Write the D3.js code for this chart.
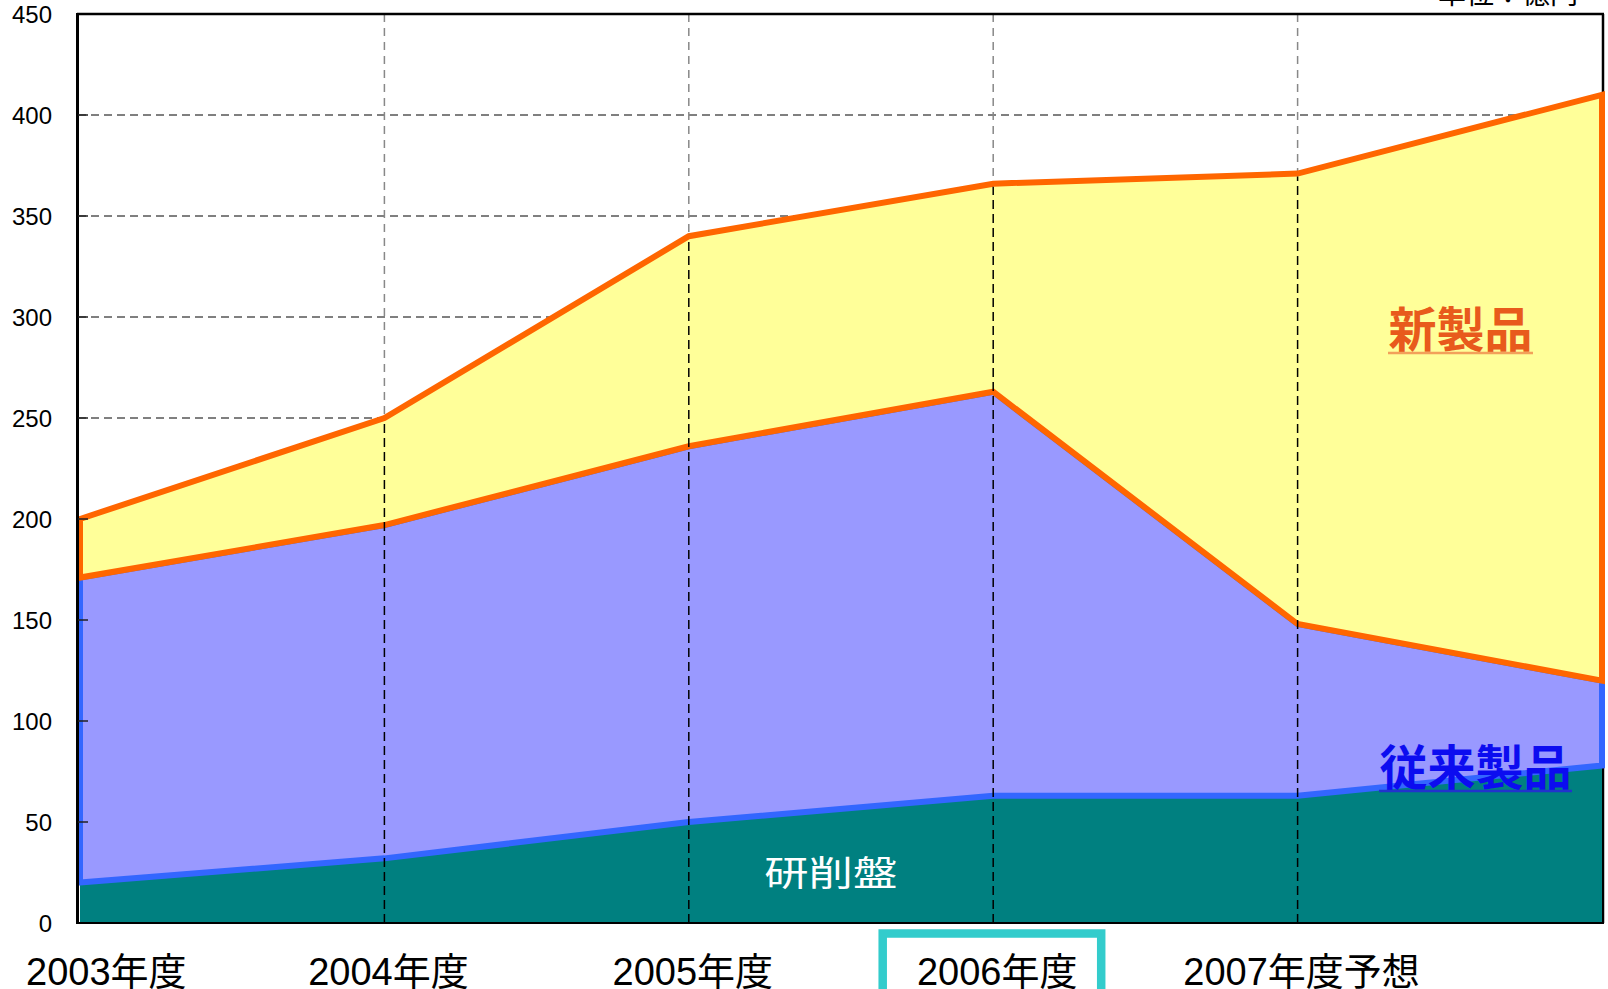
<!DOCTYPE html>
<html>
<head>
<meta charset="utf-8">
<script src="https://cdn.jsdelivr.net/npm/d3@7"></script>
<style>
  html, body { margin: 0; padding: 0; background: #ffffff; }
  svg { display: block; }
</style>
</head>
<body>
<svg id="chart" width="1608" height="989"></svg>
<script>
// ---- data ----
const categories = ["2003", "2004", "2005", "2006", "2007", "2008"];
const tickLabels = ["2003年度", "2004年度", "2005年度", "2006年度", "2007年度予想"];
const grinding = [20, 32, 50, 63, 63, 78];          // 研削盤
const conventional = [151, 165, 186, 200, 85, 42];   // 従来製品
const newProducts = [29, 53, 104, 103, 223, 290];    // 新製品
const yTicks = [0, 50, 100, 150, 200, 250, 300, 350, 400, 450];
const seriesKeys = ["grinding", "conventional", "newProducts"];
const seriesNames = ["研削盤", "従来製品", "新製品"];
const unitLabel = "単位：億円";
const highlightLabel = "2006年度";

(function () {
const rows = categories.map((c, i) => ({
  cat: c,
  grinding: grinding[i],
  conventional: conventional[i],
  newProducts: newProducts[i]
}));

const svg = d3.select("#chart");
const pL = 80, pR = 1602, pT = 14, pB = 923;

const x = d3.scalePoint().domain(categories).range([pL, pR]);
const y = d3.scaleLinear().domain([0, 450]).range([pB, pT]);

const stacked = d3.stack().keys(seriesKeys)(rows);

const fills = { grinding: "#008080", conventional: "#9999FF", newProducts: "#FFFF99" };
const strokes = { grinding: "none", conventional: "#3366FF", newProducts: "#FF6600" };

const CJK = "'Noto Sans CJK JP', 'Noto Sans CJK SC', sans-serif";
const LAT = "'Liberation Sans', Arial, 'Noto Sans CJK JP', sans-serif";

// ---- grid ----
const grid = svg.append("g");
grid.selectAll("line.h").data(yTicks.filter(t => t > 0 && t < 450)).join("line")
  .attr("x1", pL - 2).attr("x2", pR)
  .attr("y1", d => y(d)).attr("y2", d => y(d))
  .attr("stroke", "#000").attr("stroke-width", 1)
  .attr("stroke-dasharray", "8,5");
grid.selectAll("line.v").data(categories.slice(1, 5)).join("line")
  .attr("x1", d => x(d)).attr("x2", d => x(d))
  .attr("y1", pT).attr("y2", pB)
  .attr("stroke", "#888").attr("stroke-width", 1.5)
  .attr("stroke-dasharray", "8,6");

// frame top & right
svg.append("line").attr("x1", pL - 3).attr("x2", pR + 2).attr("y1", pT).attr("y2", pT)
  .attr("stroke", "#000").attr("stroke-width", 2.5);
svg.append("line").attr("x1", pR + 1).attr("x2", pR + 1).attr("y1", pT).attr("y2", pB)
  .attr("stroke", "#000").attr("stroke-width", 2.5);

// ---- areas ----
const area = d3.area()
  .x(d => x(d.data.cat))
  .y0(d => y(d[0]))
  .y1(d => y(d[1]));

svg.append("g").selectAll("path").data(stacked).join("path")
  .attr("d", area)
  .attr("fill", d => fills[d.key])
  .attr("stroke", d => strokes[d.key])
  .attr("stroke-width", 6)
  .attr("stroke-linejoin", "miter");

// ---- drop lines ----
const topSeries = stacked[stacked.length - 1];
svg.append("g").selectAll("line").data(topSeries.slice(1, 5)).join("line")
  .attr("x1", d => x(d.data.cat)).attr("x2", d => x(d.data.cat))
  .attr("y1", pB).attr("y2", d => y(d[1]) + 3)
  .attr("stroke", "#000").attr("stroke-width", 1.5)
  .attr("stroke-dasharray", "9,5");

// ---- axes ----
svg.append("line").attr("x1", 77.5).attr("x2", 77.5).attr("y1", pT - 1).attr("y2", pB + 1)
  .attr("stroke", "#000").attr("stroke-width", 3);
svg.append("line").attr("x1", 76).attr("x2", pR + 2).attr("y1", pB).attr("y2", pB)
  .attr("stroke", "#000").attr("stroke-width", 2);

// y ticks (inward)
svg.append("g").selectAll("line").data(yTicks.filter(t => t > 0 && t < 450)).join("line")
  .attr("x1", 78).attr("x2", 88)
  .attr("y1", d => y(d)).attr("y2", d => y(d))
  .attr("stroke", "#222").attr("stroke-width", 1.5);

// y labels
svg.append("g").selectAll("text").data(yTicks).join("text")
  .attr("x", 52).attr("y", d => y(d))
  .attr("dy", "0.36em")
  .attr("text-anchor", "end")
  .attr("font-family", LAT).attr("font-size", 24)
  .attr("fill", "#000")
  .text(d => d);

// x labels
const xl = svg.append("g").selectAll("text").data(tickLabels).join("text")
  .attr("y", 985)
  .attr("text-anchor", "middle")
  .attr("font-family", LAT).attr("font-size", 38)
  .attr("fill", "#000")
  .text(d => d);
xl.each(function (d, i) {
  const w = this.getComputedTextLength();
  const cx = Math.max(x(categories[i]) + 4, 26 + w / 2);
  d3.select(this).attr("x", cx);
});

// highlight box around 2006
const hiIdx = tickLabels.indexOf(highlightLabel);
const hx = x(categories[hiIdx]);
svg.append("rect")
  .attr("x", hx - 110.5).attr("y", 933.5)
  .attr("width", 218.5).attr("height", 90)
  .attr("fill", "none")
  .attr("stroke", "#33CCCC").attr("stroke-width", 8.5);

// unit label
svg.append("text")
  .attr("x", 1438).attr("y", 4)
  .attr("font-family", CJK).attr("font-size", 28)
  .attr("fill", "#000")
  .text(unitLabel);

// series labels
svg.append("text")
  .attr("x", x(categories[2]) + 142).attr("y", 886)
  .attr("text-anchor", "middle")
  .attr("font-family", CJK).attr("font-size", 35)
  .attr("fill", "#ffffff")
  .attr("textLength", 133).attr("lengthAdjust", "spacingAndGlyphs")
  .text(seriesNames[0]);

function underlined(name, cx, baseline, color, lineColor, width) {
  svg.append("text")
    .attr("x", cx).attr("y", baseline)
    .attr("text-anchor", "middle")
    .attr("font-family", CJK).attr("font-size", 48).attr("font-weight", 700)
    .attr("fill", color)
    .text(name);
  svg.append("line")
    .attr("x1", cx - width / 2).attr("x2", cx + width / 2)
    .attr("y1", baseline + 6).attr("y2", baseline + 6)
    .attr("stroke", lineColor).attr("stroke-width", 2.5);
}
underlined(seriesNames[2], 1460.5, 347, "#E85A1C", "#F2A15A", 145);
underlined(seriesNames[1], 1475.5, 785, "#0C0CF0", "#2233CC", 193);
})();
</script>
</body>
</html>
